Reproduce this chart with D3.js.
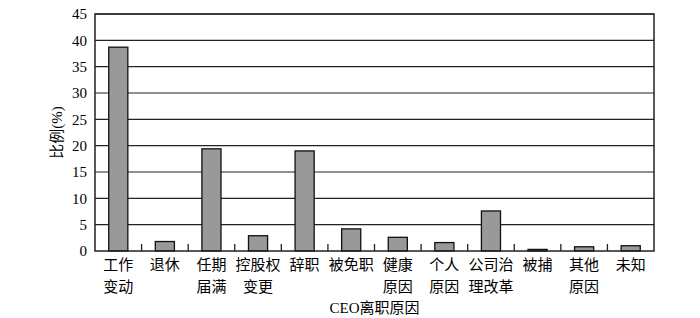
<!DOCTYPE html>
<html>
<head>
<meta charset="utf-8">
<script src="https://cdn.jsdelivr.net/npm/d3@7"></script>
<style>
  body { margin: 0; background: #fff; }
  text { font-family: "Liberation Serif", "Noto Sans CJK SC", serif; fill: #000; }
</style>
</head>
<body>
<svg id="chart" width="700" height="318"></svg>
<script>
// ====================
// DATA
// ====================
var categories = ["工作变动", "退休", "任期届满", "控股权变更", "辞职", "被免职",
  "健康原因", "个人原因", "公司治理改革", "被捕", "其他原因", "未知"];
// label lines, as printed under each bar
var labelLines = [["工作", "变动"], ["退休"], ["任期", "届满"], ["控股权", "变更"], ["辞职"], ["被免职"],
  ["健康", "原因"], ["个人", "原因"], ["公司治", "理改革"], ["被捕"], ["其他", "原因"], ["未知"]];
var values = [38.7, 1.8, 19.4, 2.9, 19.0, 4.2, 2.6, 1.6, 7.6, 0.3, 0.8, 1.0];
var yTicks = [0, 5, 10, 15, 20, 25, 30, 35, 40, 45];

// ====================
// MAIN
// ====================
var svg = d3.select("#chart");
var plotL = 95, plotR = 654, plotT = 14, plotB = 251;

var x = d3.scaleBand().domain(categories).range([plotL, plotR]).paddingInner(0).paddingOuter(0);
var y = d3.scaleLinear().domain([0, 45]).range([plotB, plotT]);

// gridlines
svg.append("g")
  .selectAll("line")
  .data(yTicks.filter(function (d) { return d > 0; }))
  .enter().append("line")
  .attr("x1", plotL).attr("x2", plotR)
  .attr("y1", function (d) { return y(d); })
  .attr("y2", function (d) { return y(d); })
  .attr("stroke", "#222").attr("stroke-width", 1.2);

// bars
var bw = x.bandwidth() * 0.41;
svg.append("g")
  .selectAll("rect")
  .data(values)
  .enter().append("rect")
  .attr("x", function (d, i) { return x(categories[i]) + x.bandwidth() / 2 - bw / 2; })
  .attr("y", function (d) { return y(d); })
  .attr("width", bw)
  .attr("height", function (d) { return plotB - y(d); })
  .attr("fill", "#999").attr("stroke", "#111").attr("stroke-width", 1.3);

// frame
svg.append("rect")
  .attr("x", plotL).attr("y", plotT)
  .attr("width", plotR - plotL).attr("height", plotB - plotT)
  .attr("fill", "none").attr("stroke", "#222").attr("stroke-width", 1.5);

// y axis labels
var yAxis = d3.axisLeft(y).tickValues(yTicks).tickSize(0).tickPadding(8);
svg.append("g")
  .attr("transform", "translate(" + plotL + ",0)")
  .call(yAxis)
  .call(function (g) { g.select(".domain").remove(); })
  .selectAll("text")
  .attr("font-size", 15)
  .style("font-family", "Liberation Serif, serif");

// x category separators (small ticks up from the bottom)
svg.append("g")
  .selectAll("line")
  .data(categories.slice(1))
  .enter().append("line")
  .attr("x1", function (d) { return x(d); })
  .attr("x2", function (d) { return x(d); })
  .attr("y1", plotB).attr("y2", plotB - 7)
  .attr("stroke", "#222").attr("stroke-width", 1.3);

// x labels
var xl = svg.append("g")
  .selectAll("text")
  .data(categories)
  .enter().append("text")
  .attr("text-anchor", "middle")
  .attr("font-size", 15)
  .style("font-family", "Noto Sans CJK SC, sans-serif");
xl.each(function (d, i) {
  var t = d3.select(this);
  labelLines[i].forEach(function (s, k) {
    t.append("tspan")
      .attr("x", x(d) + x.bandwidth() / 2)
      .attr("y", 270 + k * 22)
      .text(s);
  });
});

// axis titles
svg.append("text")
  .attr("x", (plotL + plotR) / 2).attr("y", 313)
  .attr("text-anchor", "middle").attr("font-size", 15)
  .text("CEO离职原因");

svg.append("text")
  .attr("transform", "translate(62," + ((plotT + plotB) / 2) + ") rotate(-90)")
  .attr("text-anchor", "middle").attr("font-size", 15)
  .text("比例(%)");
</script>
</body>
</html>
